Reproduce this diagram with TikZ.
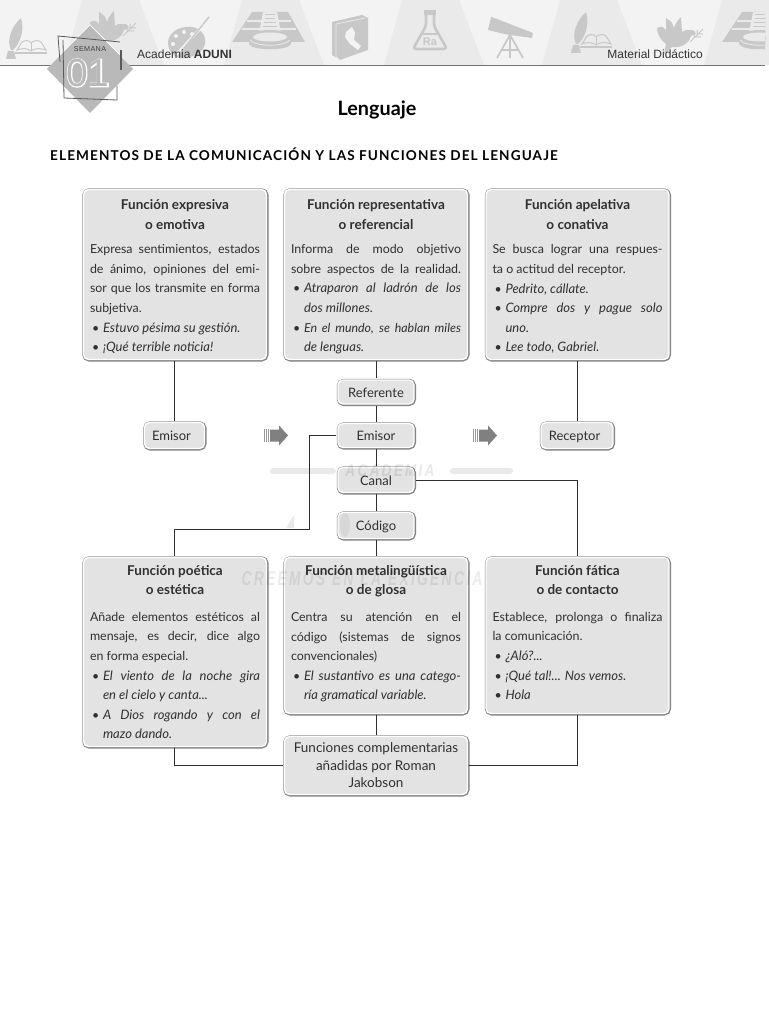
\documentclass[tikz,border=0pt]{standalone}
\usepackage{fontspec}
\setmainfont{Lato}
\newfontfamily\headfont{Liberation Sans}
\newfontfamily\numfat[FakeBold=5]{Liberation Sans}
\newfontfamily\numthin{Liberation Sans}
\usetikzlibrary{calc}
\definecolor{boxfill}{HTML}{E3E3E3}
\definecolor{boxedge}{HTML}{858585}
\definecolor{linecol}{HTML}{2E2E2E}
\definecolor{txt}{HTML}{303030}
\definecolor{bandlight}{HTML}{F3F3F3}
\definecolor{banddark}{HTML}{EAEAEA}
\definecolor{icon}{HTML}{C8C8C8}
\definecolor{wm}{HTML}{E9E9E9}
\newlength\tw \setlength\tw{170pt}
\newcommand\itf{\fontsize{13}{19.6}\selectfont\itshape}
\newcommand\tl[1]{\hbox to\tw{\hfil\fontsize{13.5}{19.6}\selectfont\bfseries #1\hfil}}
\newcommand\jl[1]{\hbox to\tw{#1}}
\newcommand\rl[1]{\hbox to\tw{#1\hfil}}
\newcommand\bul{\hbox to 13pt{\kern2pt\textbullet\hfil}}
\newcommand\bj[1]{\hbox to\tw{\bul\itf #1}}
\newcommand\bt[1]{\hbox to\tw{\bul\itshape #1}}
\newcommand\br[1]{\hbox to\tw{\bul\itf #1\hfil}}
\newcommand\cc[1]{\hbox to\tw{\hskip13pt\itf #1\hfil}}
\newcommand\gap{\vskip5pt}
\newcommand\gapb{\vskip7pt}
\newcommand\stack[1]{\vbox{\hsize\tw\baselineskip=19.6pt\lineskiplimit=-100pt #1\kern3.5pt}}
\tikzset{
  x=1pt,y=-1pt,
  shell/.style={rounded corners=5pt,fill=boxfill,draw=white,line width=1.4pt,outer sep=1.8pt,
    preaction={draw=boxedge,line width=3.2pt,transform canvas={shift={(0.4pt,-0.4pt)}}}},
  funcbox/.style={shell,anchor=north west,inner xsep=6.5pt,inner ysep=0pt,
    minimum width=183pt,font=\fontsize{12.4}{19.6}\selectfont,text=txt},
  tagbox/.style={shell,anchor=center,inner sep=0pt,font=\fontsize{13}{15}\selectfont,text=txt},
  tagone/.style={tagbox,text height=11pt,text depth=1pt},
  link/.style={draw=linecol,line width=1pt},
  iconline/.style={draw=icon,line width=1.6pt},
}
\newcommand\quill[2]{\begin{scope}[shift={(#1,#2)}]
 \fill[icon] (21,18) .. controls (25,30) and (20,44) .. (13,50) -- (11,50) .. controls (6,40) and (12,26) .. (21,18) -- cycle;
 \fill[icon] (8,51) -- (14,51) -- (16,59) -- (6,59) -- cycle;
 \draw[iconline,line width=1pt] (17,50) -- (22,42) .. controls (26,40) and (29,40) .. (31,43) .. controls (34,40) and (38,40) .. (41,42) -- (46,50) .. controls (40,48) and (35,48) .. (31,51) .. controls (27,48) and (22,48) .. (17,50) -- cycle;
 \draw[iconline] (15,53) -- (47,53);
 \draw[iconline,line width=1pt] (31,43) -- (31,51);
\end{scope}}
\newcommand\dove[2]{\begin{scope}[shift={(#1,#2)}]
 \fill[icon] (690,30) .. controls (694,30) .. (696,34) -- (691,36) .. controls (688,46) and (678,48) .. (672,47) -- (664,54) -- (666,44) .. controls (660,40) and (657,33) .. (657,28) .. controls (662,26) .. (666,30) -- (666,18) .. controls (672,22) .. (674,28) .. controls (675,24) and (678,20) .. (681,17) .. controls (682,24) .. (682,32) .. controls (685,30) .. (690,30) -- cycle;
 \draw[iconline,line width=1pt] (690,42) -- (703,29) (695,37) -- (701,37) (698,34) -- (703,34) (694,38) -- (694,32) (697,35) -- (697,30);
\end{scope}}
\newcommand\pyramid[1]{\begin{scope}[shift={(#1,0)}]
 \fill[icon] (252,12) -- (288,12) -- (305,42) -- (232,42) -- cycle;
 \draw[banddark,line width=1.2pt] (247,21) -- (291,21) (242,29) -- (296,29);
 \fill[banddark] (263,12) -- (277,12) -- (281,33) -- (259,33) -- cycle;
 \draw[icon,line width=1pt] (265,15) -- (275,15) (265,19) -- (275,19) (264,23) -- (276,23) (263,27) -- (277,27);
 \fill[icon] (249,37) -- (249,44) .. controls (252,51) and (288,51) .. (291,44) -- (291,37) -- cycle;
 \fill[icon] (270,37) ellipse [x radius=21,y radius=7];
 \fill[banddark] (270,37) ellipse [x radius=17,y radius=4.5];
 \draw[banddark,line width=.8pt] (250,40) .. controls (256,47) and (284,47) .. (290,40);
\end{scope}}
\begin{document}
\begin{tikzpicture}
\useasboundingbox (0,0) rectangle (768,1024);
\fill[white] (0,0) rectangle (768,1024);
% header band
\fill[bandlight] (0,0) rectangle (765,65);
\foreach \o in {0,160,320,478,640}{
 \fill[banddark] (\o+82,0) -- (\o+139,0) -- (\o+164,65) -- (\o+64,65) -- cycle;}
\begin{scope}
\clip (0,0) rectangle (765,65);
\quill{0}{0}
\quill{565}{-6}
\dove{0}{0}
\dove{-567}{-6}
\pyramid{0}
\pyramid{490}
% palette
\fill[icon] (186,27) .. controls (198,25) and (207,34) .. (205,44) .. controls (203,52) and (196,56) .. (186,58) .. controls (176,60) and (168,52) .. (168,43) .. controls (168,34) and (176,28) .. (186,27) -- cycle;
\fill[bandlight] (176,36) circle (2) (184,32) circle (2) (192,34) circle (2) (173,44) circle (2);
\draw[bandlight,line width=2.6pt] (176,55) -- (208,20);
\draw[icon,line width=1.4pt] (180,53) -- (209,17);
% book with map
\fill[icon] (332,22) -- (362,15) -- (368,18) -- (368,50) -- (340,60) -- (332,55) -- cycle;
\draw[banddark,line width=.8pt] (336,24) -- (336,57) -- (340,60) (336,24) -- (365,18);
\fill[bandlight] (346,32) -- (352,27) -- (355,33) -- (354,40) -- (361,46) -- (358,50) -- (350,44) -- (345,37) -- cycle;
% flask
\draw[icon,line width=2.6pt,line join=round,rounded corners=3pt] (426,13) -- (426,26) -- (413,49) -- (447,49) -- (434,26) -- (434,13);
\fill[icon] (424,10) rectangle (436,15);
\draw[icon,line width=1.2pt] (420,34) -- (440,34);
\node[font=\headfont\bfseries\fontsize{11}{11}\selectfont,text=icon,inner sep=0] (ra) at (430,42) {Ra};
% telescope
\fill[icon] (491,17) -- (497,19) -- (533,33) -- (532,38) -- (510,35) -- (500,33) -- (488,30) -- cycle;
\draw[iconline,line width=1.7pt] (510,35) -- (497,58) (510,35) -- (510,58) (510,35) -- (523,58) (502,50) -- (518,50);
\end{scope}
\draw[draw=gray!90!black,line width=1.2pt] (0,65.5) -- (765,65.5);
% diamond
\fill[gray!55] (90,25) -- (133,69) -- (90,113) -- (47,69) -- cycle;
\draw[white,line width=.7pt] (60,55) -- (90,25) -- (120,55);
\draw[gray!70!black,line width=.8pt] (60,62) -- (58,36) -- (120,42);
\draw[gray!70!black,line width=.8pt] (63,40) -- (64,98) -- (117,100) -- (117,86);
\draw[gray!70!black,line width=1.4pt] (121,50) -- (121,70);
\node[inner sep=0,font=\headfont\fontsize{7.2}{7.2}\selectfont\addfontfeature{LetterSpace=5},text=black!75] (sem) at (90,49) {SEMANA};
\node[inner sep=0,font=\fontsize{39}{39}\selectfont] (num) at (88,73) {\rlap{\numfat\textcolor{white}{01}}{\numthin\textcolor{gray!55}{01}}};
% header text
\node[anchor=base west,inner sep=0,font=\headfont\fontsize{12}{12}\selectfont,text=black!80] (aca) at (137,59) {Academia \textbf{ADUNI}};
\node[anchor=base east,inner sep=0,font=\headfont\fontsize{12}{12}\selectfont,text=black!80] (mat) at (703,59) {Material Didáctico};
\node[inner sep=0,font=\bfseries\fontsize{19.8}{20}\selectfont] (title) at (377,110) {Lenguaje};
\node[anchor=base west,inner sep=0,font=\bfseries\fontsize{13.6}{15}\selectfont\addfontfeature{LetterSpace=8}] (sub) at (50,161) {ELEMENTOS DE LA COMUNICACIÓN Y LAS FUNCIONES DEL LENGUAJE};
% watermark background
\fill[wm,rounded corners=3pt] (270,468) rectangle (336,474) (450,468) rectangle (513,474);
\fill[wm] (286,528) -- (294,515) -- (294,528) -- cycle;
% top boxes
\node[funcbox,minimum height=170pt] (expr) at (81.7,187.7) {\stack{\vskip8pt
\tl{Función expresiva}\tl{o emotiva}\gap
\jl{Expresa sentimientos, estados}\jl{de ánimo, opiniones del emi-}\jl{sor que los transmite en forma}\rl{subjetiva.}
\br{Estuvo pésima su gestión.}\br{¡Qué terrible noticia!}}};
\node[funcbox,minimum height=170pt] (repr) at (282.7,187.7) {\stack{\vskip8pt
\tl{Función representativa}\tl{o referencial}\gap
\jl{Informa de modo objetivo}\jl{sobre aspectos de la realidad.}
\bj{Atraparon al ladrón de los}\cc{dos millones.}
\bt{En el mundo, se hablan miles}\cc{de lenguas.}}};
\node[funcbox,minimum height=170pt] (apel) at (484.2,187.7) {\stack{\vskip8pt
\tl{Función apelativa}\tl{o conativa}\gap
\jl{Se busca lograr una respues-}\rl{ta o actitud del receptor.}
\br{Pedrito, cállate.}\bj{Compre dos y pague solo}\cc{uno.}\br{Lee todo, Gabriel.}}};
% bottom boxes
\node[funcbox,minimum height=189pt] (poet) at (81.7,555.7) {\stack{\vskip3.5pt
\tl{Función poética}\tl{o estética}\gapb
\jl{Añade elementos estéticos al}\jl{mensaje, es decir, dice algo}\rl{en forma especial.}
\bj{El viento de la noche gira}\cc{en el cielo y canta...}
\bj{A Dios rogando y con el}\cc{mazo dando.}}};
\node[funcbox,minimum height=156pt] (meta) at (282.7,555.7) {\stack{
\tl{Función metalingüística}\tl{o de glosa}\gapb
\jl{Centra su atención en el}\jl{código (sistemas de signos}\rl{convencionales)}
\bj{El sustantivo es una catego-}\cc{ría gramatical variable.}}};
\node[funcbox,minimum height=156pt] (fati) at (484.2,555.7) {\stack{
\tl{Función fática}\tl{o de contacto}\gapb
\jl{Establece, prolonga o finaliza}\rl{la comunicación.}
\br{¿Aló?...}\br{¡Qué tal!... Nos vemos.}\br{Hola}\vskip2.5pt}};
% small boxes
\node[tagone,minimum width=76pt,minimum height=24pt] (ref) at (376,392) {Referente};
\node[tagone,minimum width=76pt,minimum height=24pt] (emi) at (376,435.5) {Emisor};
\node[tagone,minimum width=76pt,minimum height=25pt] (can) at (376,480) {Canal};
\node[tagone,minimum width=76pt,minimum height=26pt] (cod) at (376,525.5) {Código};
\node[tagone,minimum width=60pt,minimum height=26pt] (emil) at (174.5,435.5) {Emisor\kern6pt};
\node[tagone,minimum width=72pt,minimum height=26pt] (rec) at (577,435.5) {Receptor\kern5pt};
\node[tagbox,minimum width=183pt,minimum height=58pt,align=center,font=\fontsize{13.5}{17.5}\selectfont] (comp) at (376,765.5) {Funciones complementarias\\añadidas por Roman\\Jakobson};
% connectors
\draw[link] (expr.south -| emil) -- (emil.north);
\draw[link] (apel.south -| rec) -- (rec.north);
\draw[link] (repr.south -| ref) -- (ref.north);
\draw[link] (ref) -- (emi);
\draw[link] (emi) -- (can);
\draw[link] (can) -- (cod);
\draw[link] (cod) -- (cod |- meta.north);
\draw[link] (meta.south -| comp) -- (comp.north);
\coordinate (elbow) at (309,529);
\draw[link] (emi.west) -| (elbow) -| (poet.north -| emil);
\draw[link] (can.east) -| (fati.north -| rec);
\draw[link] (comp.west) -| (poet.south -| emil);
\draw[link] (comp.east) -| (fati.south -| rec);
% arrows between tags
\foreach \o in {0,209}{
 \draw[gray!80,line width=.8pt] (\o+264.5,429) -- (\o+264.5,442) (\o+266.5,429) -- (\o+266.5,442) (\o+268.5,429) -- (\o+268.5,442);
 \fill[gray] (\o+270,429.5) -- (\o+279,429.5) -- (\o+279,425.5) -- (\o+288,435.5) -- (\o+279,445.5) -- (\o+279,441.5) -- (\o+270,441.5) -- cycle;}
% watermark text
\fill[black,opacity=.05] (345,525) ellipse [x radius=5,y radius=12];
\node[inner sep=0,opacity=.09,font=\headfont\bfseries\itshape\fontsize{17}{17}\selectfont,xscale=.8] (wma) at (390,471) {A\,C\,A\,D\,E\,M\,I\,A};
\node[inner sep=0,opacity=.08,font=\headfont\bfseries\itshape\fontsize{20}{20}\selectfont,xscale=.69] (wmb) at (362,578.5) {C\,R\,E\,E\,M\,O\,S\kern10pt E\,N\kern10pt L\,A\kern10pt E\,X\,I\,G\,E\,N\,C\,I\,A};
\end{tikzpicture}
\end{document}
